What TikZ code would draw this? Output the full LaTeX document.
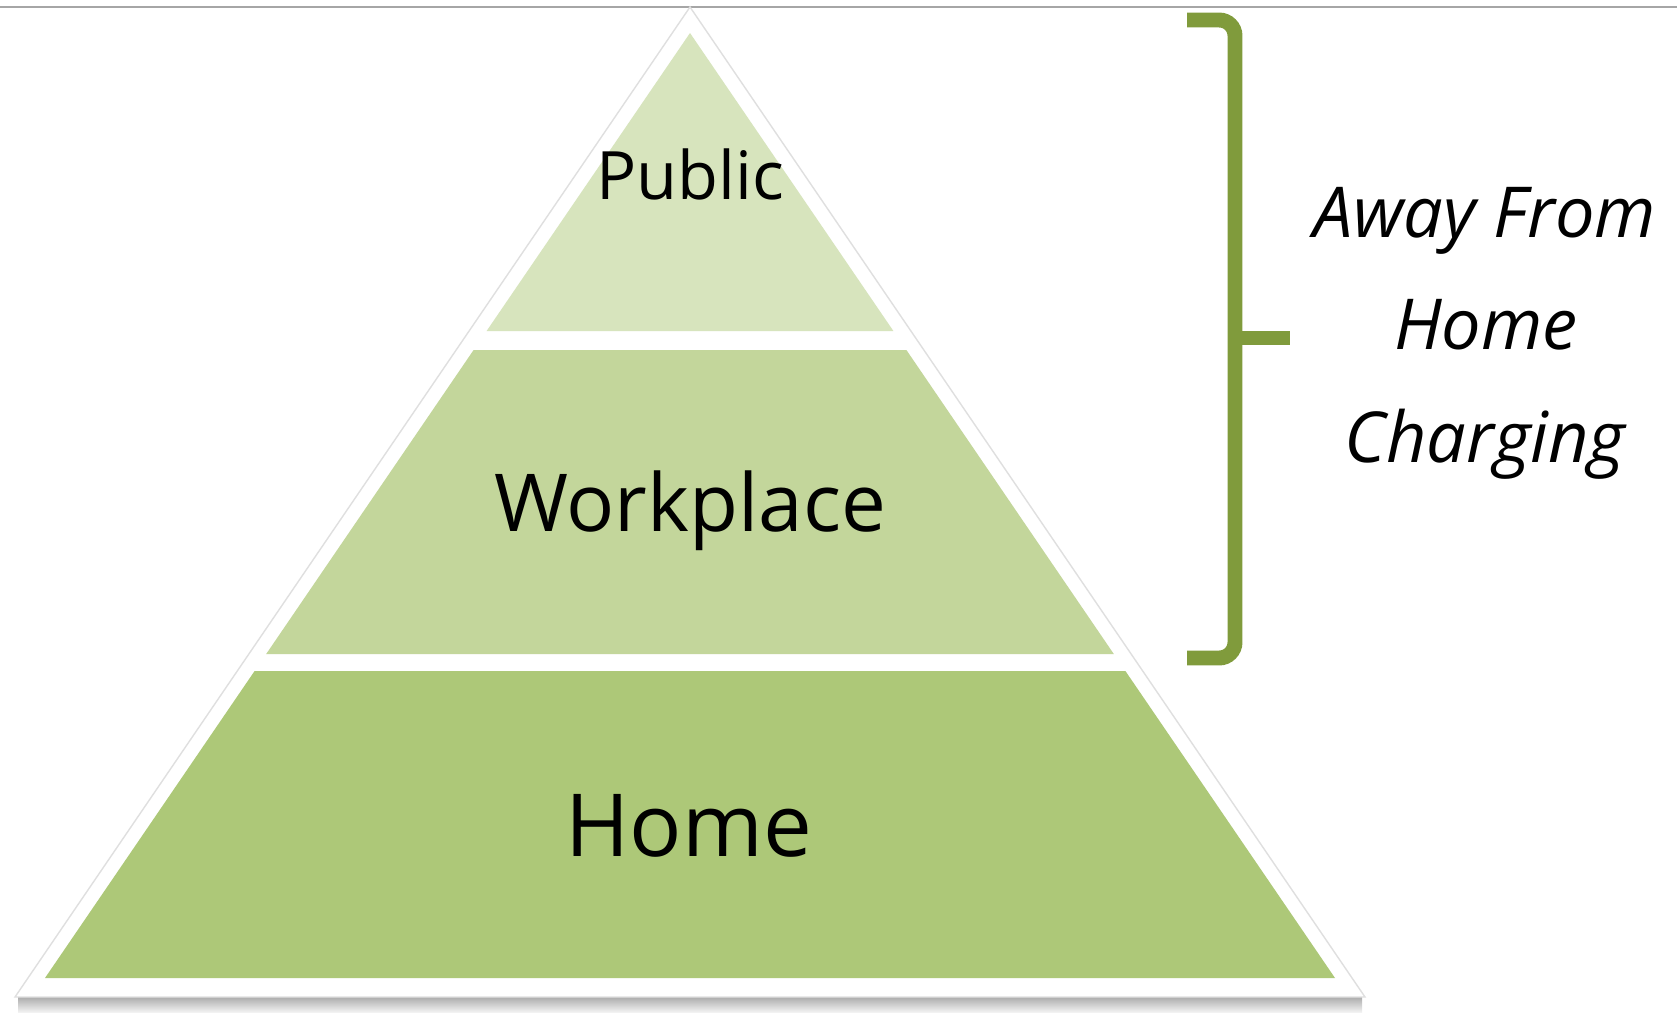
\documentclass[tikz,border=0pt]{standalone}
\usepackage{fontspec}
\setmainfont{Open Sans}
\usepackage{xcolor}
\usetikzlibrary{arrows}

\definecolor{publicgreen}{RGB}{215,228,189}
\definecolor{workgreen}{RGB}{195,214,155}
\definecolor{homegreen}{RGB}{173,200,120}
\definecolor{bracegreen}{RGB}{128,155,60}

\tikzset{
  layer/.style={draw=none},
  tier/.style={inner sep=0pt, anchor=base, text=black},
  awaytext/.style={inner sep=0pt, anchor=base, text=black,
    font=\fontsize{40}{48}\selectfont\itshape}
}

\begin{document}
\begin{tikzpicture}[x=0.02cm, y=-0.02cm]
	\useasboundingbox (0,0) rectangle (1677,1012);
	% frame line and outer triangle
	\draw[gray!70, line width=1.2pt] (0,7) -- (1677,7);
	\shade[top color=gray!65, bottom color=gray!10] (18,997) rectangle (1362,1012);
	\draw[gray!25, fill=white, line width=0.8pt] (690,7) -- (15,997) -- (1365,997) -- cycle;
	% layers
	\fill[layer, publicgreen] (690,33) -- (486.6,331) -- (893.4,331) -- cycle;
	\fill[layer, workgreen] (473.6,350) -- (906.4,350) -- (1113.8,654) -- (266.2,654) -- cycle;
	\fill[layer, homegreen] (254.6,671) -- (1125.4,671) -- (1335,978) -- (45,978) -- cycle;
	\node[tier, font=\fontsize{38}{45}\selectfont] (public) at (690,199) {Public};
	\node[tier, font=\fontsize{45.5}{54}\selectfont] (workplace) at (690,531) {Workplace};
	\node[tier, font=\fontsize{49.5}{58}\selectfont] (home) at (689,856) {Home};
	% bracket
	\draw[bracegreen, line width=8.5pt, rounded corners=9pt] (1187,20) -- (1235,20) -- (1235,658) -- (1187,658);
	\draw[bracegreen, line width=8.5pt] (1235,338) -- (1290,338);
	\node[awaytext] (away) at (1485,237) {Away From};
	\node[awaytext] (awayhome) at (1486,349) {Home};
	\node[awaytext] (charging) at (1485,462) {Charging};
\end{tikzpicture}
\end{document}
